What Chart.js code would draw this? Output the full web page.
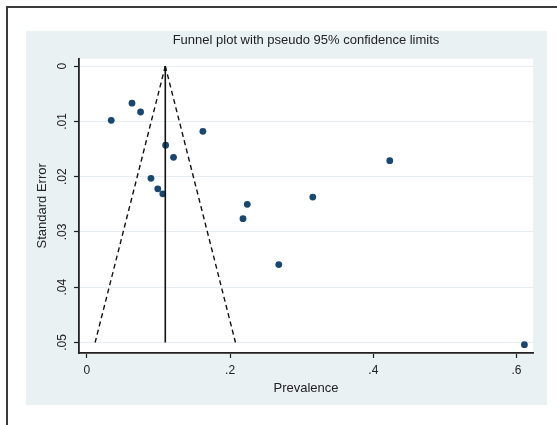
<!DOCTYPE html>
<html>
<head>
<meta charset="utf-8">
<script src="https://cdn.jsdelivr.net/npm/chart.js@4"></script>
<style>
  html, body { margin: 0; padding: 0; background: #fff; }
  #wrap { width: 557px; height: 425px; }
</style>
</head>
<body>
<div id="wrap"><canvas id="funnel" width="557" height="425"></canvas></div>
<script>
// study estimates
const prevalence = [0.034, 0.063, 0.075, 0.162, 0.110, 0.121, 0.0895, 0.099, 0.106, 0.423, 0.3155, 0.224, 0.218, 0.268, 0.611];
const stdError   = [0.0098, 0.0067, 0.0083, 0.0118, 0.0143, 0.0165, 0.0203, 0.0222, 0.0231, 0.0171, 0.0237, 0.0250, 0.0276, 0.0359, 0.0504];

// pooled estimate and pseudo 95% limits
const pooledX = [0.1095, 0.1095];
const funnelSE = [0, 0.05];
const lowerX = [0.1095, 0.0115];
const upperX = [0.1095, 0.2075];

const xTicks = [0, 0.2, 0.4, 0.6];
const yTicks = [0, 0.01, 0.02, 0.03, 0.04, 0.05];

const stataFmt = v => v === 0 ? "0" : String(+v.toFixed(3)).replace(/^0/, "");
const pairs = (xs, ys) => xs.map((x, i) => ({ x: x, y: ys[i] }));

const backdrop = {
  id: "backdrop",
  beforeDraw(chart) {
    const { ctx, chartArea: a } = chart;
    ctx.save();
    ctx.fillStyle = "#eaf1f3";
    ctx.fillRect(26, 31, 521, 374);
    ctx.fillStyle = "#fff";
    ctx.fillRect(a.left, a.top, a.right - a.left, a.bottom - a.top);
    ctx.strokeStyle = "#3a3a3a";
    ctx.lineWidth = 2;
    ctx.beginPath();
    ctx.moveTo(7, 425);
    ctx.lineTo(7, 7);
    ctx.lineTo(557, 7);
    ctx.stroke();
    ctx.restore();
  }
};

const ink = "#222";
const font = { family: "'Liberation Sans', Arial, sans-serif", size: 12 };

new Chart(document.getElementById("funnel"), {
  type: "scatter",
  data: {
    datasets: [
      {
        label: "lower",
        data: pairs(lowerX, funnelSE),
        showLine: true,
        borderColor: "#111",
        borderWidth: 1.4,
        borderDash: [5, 3.5],
        pointRadius: 0
      },
      {
        label: "upper",
        data: pairs(upperX, funnelSE),
        showLine: true,
        borderColor: "#111",
        borderWidth: 1.4,
        borderDash: [5, 3.5],
        pointRadius: 0
      },
      {
        label: "pooled",
        data: pairs(pooledX, funnelSE),
        showLine: true,
        borderColor: "#111",
        borderWidth: 1.6,
        pointRadius: 0
      },
      {
        label: "studies",
        data: pairs(prevalence, stdError),
        pointRadius: 3.4,
        pointBackgroundColor: "#1a476f",
        pointBorderWidth: 0,
        borderColor: "#1a476f"
      }
    ]
  },
  options: {
    responsive: false,
    animation: false,
    layout: { padding: { top: 31, left: 26, right: 24, bottom: 20 } },
    plugins: {
      legend: { display: false },
      tooltip: { enabled: false },
      title: {
        display: true,
        fullSize: false,
        text: "Funnel plot with pseudo 95% confidence limits",
        color: ink,
        font: { family: font.family, size: 13, weight: "normal" },
        padding: { top: 2, bottom: 10 }
      }
    },
    scales: {
      x: {
        type: "linear",
        min: -0.011,
        max: 0.623,
        afterBuildTicks: s => { s.ticks = xTicks.map(v => ({ value: v })); },
        afterFit: s => { s.height = 52; },
        ticks: { color: ink, font: font, padding: 5, maxRotation: 0, callback: v => stataFmt(v) },
        grid: { drawOnChartArea: false, tickLength: 5, tickColor: ink, tickWidth: 1.2 },
        border: { color: ink, width: 1.8 },
        title: {
          display: true,
          text: "Prevalence",
          color: ink,
          font: { family: font.family, size: 13 },
          padding: { top: 0, bottom: 9 }
        }
      },
      y: {
        type: "linear",
        reverse: true,
        min: -0.00136,
        max: 0.0519,
        afterBuildTicks: s => { s.ticks = yTicks.map(v => ({ value: v })); },
        afterFit: s => { s.width = 53; },
        ticks: {
          color: ink, font: font, padding: 3,
          minRotation: 90, maxRotation: 90, crossAlign: "center",
          callback: v => stataFmt(v)
        },
        grid: { color: "#e6eef1", lineWidth: 1, tickLength: 5, tickColor: ink, tickWidth: 1.2 },
        border: { color: ink, width: 1.8 },
        title: {
          display: true,
          text: "Standard Error",
          color: ink,
          font: { family: font.family, size: 13 },
          padding: { top: 9, bottom: 0 }
        }
      }
    }
  },
  plugins: [backdrop]
});
</script>
</body>
</html>
